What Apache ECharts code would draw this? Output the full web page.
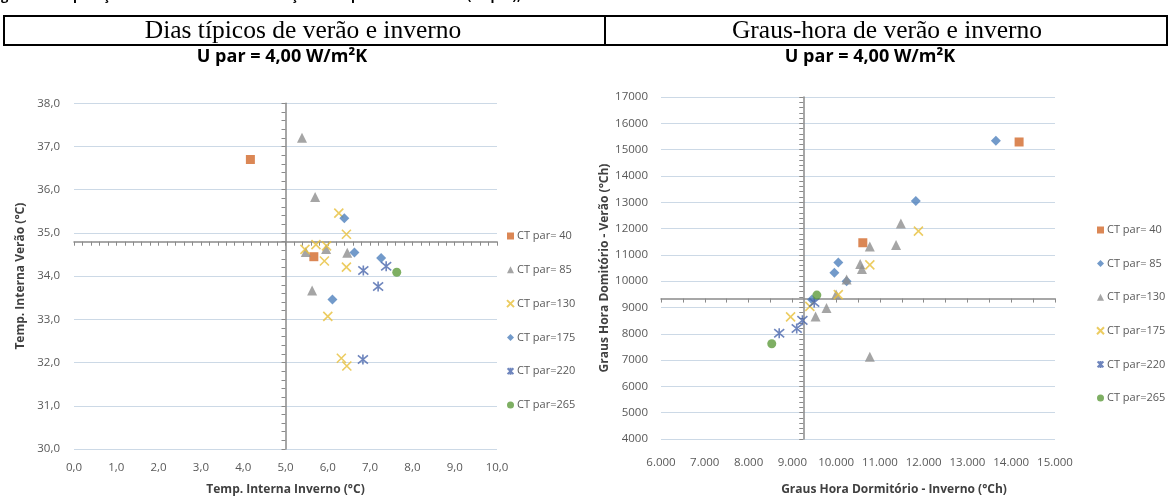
<!DOCTYPE html>
<html>
<head>
<meta charset="utf-8">
<script src="https://cdn.jsdelivr.net/npm/echarts@6/dist/echarts.min.js"></script>
<style>
  html, body { margin: 0; padding: 0; background: #ffffff; }
  #chart { width: 1170px; height: 501px; }
</style>
</head>
<body>
<div id="chart"></div>
<script>
// ---- Legend labels (one per wall heat capacity) ----
const ctLabels = ['CT par= 40', 'CT par= 85', 'CT par=130', 'CT par=175', 'CT par=220', 'CT par=265'];

// ---- Dias típicos: [Temp. interna inverno (°C), Temp. interna verão (°C)] ----
const diasCT40  = [[4.17, 36.70], [5.67, 34.45]];
const diasCT85  = [[5.39, 37.20], [5.70, 35.83], [5.48, 34.56], [5.96, 34.63], [6.46, 34.54], [5.63, 33.67]];
const diasCT130 = [[6.26, 35.46], [6.44, 34.97], [5.46, 34.62], [5.72, 34.73], [5.97, 34.70],
                   [5.92, 34.35], [6.44, 34.21], [6.00, 33.07], [6.32, 32.10], [6.45, 31.92]];
const diasCT175 = [[6.39, 35.34], [6.63, 34.55], [7.26, 34.42], [6.11, 33.46]];
const diasCT220 = [[6.84, 34.13], [7.38, 34.23], [7.19, 33.76], [6.83, 32.07]];
const diasCT265 = [[7.63, 34.09]];

// ---- Graus-hora: [GH dormitório inverno (°Ch), GH dormitório verão (°Ch)] ----
const grausCT40  = [[14180, 15290], [10610, 11460]];
const grausCT85  = [[13650, 15340], [11820, 13050], [10050, 10710], [9960, 10320], [10240, 10000], [9450, 9300]];
const grausCT130 = [[11480, 12190], [10770, 11320], [11370, 11370], [10550, 10650], [10590, 10460],
                    [10240, 10060], [10000, 9490], [9780, 8980], [9530, 8660], [10770, 7130]];
const grausCT175 = [[11880, 11900], [10770, 10620], [10050, 9490], [9400, 9040], [8960, 8640]];
const grausCT220 = [[9500, 9190], [9230, 8510], [9100, 8200], [8700, 8020]];
const grausCT265 = [[9560, 9470], [8530, 7620]];

// ---- Axis ranges and the point where the reference axes cross ----
const diasX = { min: 0, max: 10, step: 1 };
const diasY = { min: 30, max: 38, step: 1 };
const diasCross = { x: 5.0, y: 34.79 };
const grausX = { min: 6000, max: 15000, step: 1000 };
const grausY = { min: 4000, max: 17000, step: 1000 };
const grausCross = { x: 9250, y: 9330 };

// ---- Marker styles ----
const MARK = {
  square:   { symbol: 'rect', size: 9, fill: '#d2692b' },
  triangle: { symbol: 'triangle', size: 10, fill: '#8e8e8e' },
  cross:    { symbol: 'path://M0,0L10,10M10,0L0,10', size: 9, stroke: '#e7bf3a' },
  diamond:  { symbol: 'diamond', size: 10, fill: '#4f81bd' },
  star:     { symbol: 'path://M0,0L10,10M10,0L0,10M5,-1L5,11', size: 10, stroke: '#4a66ad' },
  circle:   { symbol: 'circle', size: 9, fill: '#5e9b3c' }
};

const FONT = "'Open Sans', 'Noto Sans', sans-serif";
const LABEL_COLOR = '#595959';
const GRID_COLOR = '#ccd9e6';
const AXIS_COLOR = '#8a8a8a';

// plot rectangles
const gridDias  = { left: 74,  top: 103.3, width: 423, height: 346.2 };
const gridGraus = { left: 661, top: 97,    width: 394, height: 342.5 };

function markStyle(m) {
  if (m.stroke) {
    return { color: 'rgba(0,0,0,0)', borderColor: m.stroke, borderWidth: 1.6 };
  }
  return { color: m.fill, borderWidth: 0 };
}

function scatter(prefix, idx, data, m, gi) {
  return {
    type: 'scatter',
    name: prefix + '|' + ctLabels[idx],
    xAxisIndex: gi * 2,
    yAxisIndex: gi * 2,
    data: data,
    symbol: m.symbol,
    symbolSize: m.size,
    itemStyle: markStyle(m),
    emphasis: { disabled: true },
    silent: true
  };
}

function nameStyle(padLeft) {
  return { fontWeight: 'bold', fontSize: 12, color: '#404040', fontFamily: FONT,
           padding: [0, 0, 0, padLeft || 0] };
}

function mainX(gi, r, fmt, name, nameGap, margin, padLeft) {
  return {
    gridIndex: gi, type: 'value', min: r.min, max: r.max, interval: r.step,
    position: 'bottom',
    axisLine: { show: false, onZero: false }, axisTick: { show: false }, splitLine: { show: false },
    axisLabel: { formatter: fmt, margin: margin, color: LABEL_COLOR, fontSize: 11.5, fontFamily: FONT },
    name: name, nameLocation: 'middle', nameGap: nameGap,
    nameTextStyle: nameStyle(padLeft)
  };
}
function mainY(gi, r, fmt, name, nameGap, margin) {
  return {
    gridIndex: gi, type: 'value', min: r.min, max: r.max, interval: r.step,
    position: 'left',
    axisLine: { show: false, onZero: false }, axisTick: { show: false },
    splitLine: { show: true, lineStyle: { color: GRID_COLOR, width: 1 } },
    axisLabel: { formatter: fmt, margin: margin, color: LABEL_COLOR, fontSize: 11.5, fontFamily: FONT },
    name: name, nameLocation: 'middle', nameGap: nameGap,
    nameTextStyle: nameStyle(0)
  };
}
// axes drawn through the crossing point, with tick marks
function crossX(gi, r, rY, cy, g, minorSplit) {
  return {
    gridIndex: gi, type: 'value', min: r.min, max: r.max, interval: r.step,
    position: 'bottom',
    offset: -(cy - rY.min) / (rY.max - rY.min) * g.height,
    axisLine: { show: true, onZero: false, lineStyle: { color: AXIS_COLOR, width: 1.5 } },
    axisTick: { show: true, length: 4, lineStyle: { color: AXIS_COLOR, width: 1 } },
    minorTick: { show: true, splitNumber: minorSplit, length: 4, lineStyle: { color: AXIS_COLOR, width: 1 } },
    axisLabel: { show: false }, splitLine: { show: false }
  };
}
function crossY(gi, r, rX, cx, g, minorSplit) {
  return {
    gridIndex: gi, type: 'value', min: r.min, max: r.max, interval: r.step,
    position: 'left',
    offset: -(cx - rX.min) / (rX.max - rX.min) * g.width,
    axisLine: { show: true, onZero: false, lineStyle: { color: AXIS_COLOR, width: 1.5 } },
    axisTick: { show: true, length: 4, lineStyle: { color: AXIS_COLOR, width: 1 } },
    minorTick: { show: true, splitNumber: minorSplit, length: 4, lineStyle: { color: AXIS_COLOR, width: 1 } },
    axisLabel: { show: false }, splitLine: { show: false }
  };
}

const commaFmt = v => v.toFixed(1).replace('.', ',');
const thousandFmt = v => (v / 1000).toFixed(0) + '.000';
const plainFmt = v => String(v);

// left chart: symbol order follows its legend
const diasSeries = [
  scatter('dias', 0, diasCT40,  MARK.square,   0),
  scatter('dias', 1, diasCT85,  MARK.triangle, 0),
  scatter('dias', 2, diasCT130, MARK.cross,    0),
  scatter('dias', 3, diasCT175, MARK.diamond,  0),
  scatter('dias', 4, diasCT220, MARK.star,     0),
  scatter('dias', 5, diasCT265, MARK.circle,   0)
];
const grausSeries = [
  scatter('graus', 0, grausCT40,  MARK.square,   1),
  scatter('graus', 1, grausCT85,  MARK.diamond,  1),
  scatter('graus', 2, grausCT130, MARK.triangle, 1),
  scatter('graus', 3, grausCT175, MARK.cross,    1),
  scatter('graus', 4, grausCT220, MARK.star,     1),
  scatter('graus', 5, grausCT265, MARK.circle,   1)
];

function legendFor(series, left, top, gap) {
  return {
    orient: 'vertical', left: left, top: top,
    itemWidth: 7, itemHeight: 7, itemGap: gap,
    selectedMode: false,
    data: series.map(s => s.name),
    formatter: n => n.split('|')[1],
    textStyle: { color: LABEL_COLOR, fontSize: 11, fontFamily: FONT, lineHeight: 14, padding: [0, 0, 0, -2] }
  };
}

const chart = echarts.init(document.getElementById('chart'), null, { renderer: 'canvas' });

chart.setOption({
  animation: false,
  backgroundColor: '#ffffff',
  grid: [
    Object.assign({ containLabel: false }, gridDias),
    Object.assign({ containLabel: false }, gridGraus)
  ],
  xAxis: [
    mainX(0, diasX, commaFmt, 'Temp. Interna Inverno (°C)', 35, 13, 0),
    crossX(0, diasX, diasY, diasCross.y, gridDias, 5),
    mainX(1, grausX, thousandFmt, 'Graus Hora Dormitório - Inverno (°Ch)', 45, 18, 72),
    crossX(1, grausX, grausY, grausCross.y, gridGraus, 2)
  ],
  yAxis: [
    mainY(0, diasY, commaFmt, 'Temp. Interna Verão (°C)', 47, 14),
    crossY(0, diasY, diasX, diasCross.x, gridDias, 5),
    mainY(1, grausY, plainFmt, 'Graus Hora Domitório - Verão (°Ch)', 50, 13),
    crossY(1, grausY, grausX, grausCross.x, gridGraus, 5)
  ],
  legend: [
    legendFor(diasSeries, 501, 224, 19.8),
    legendFor(grausSeries, 1091, 218, 19.6)
  ],
  series: diasSeries.concat(grausSeries),
  graphic: [
    // figure caption line, cut by the top edge
    { type: 'text', left: -10, top: -10,
      style: { text: 'Figura – Comparação dos resultados com variação da capacidade térmica (CT par),',
               font: 'bold 13px ' + FONT, fill: '#000' } },
    // header table
    { type: 'rect', shape: { x: 4, y: 16, width: 1163, height: 29 },
      style: { fill: 'none', stroke: '#000', lineWidth: 2 } },
    { type: 'line', shape: { x1: 605, y1: 16, x2: 605, y2: 45 },
      style: { stroke: '#000', lineWidth: 2 } },
    { type: 'text', x: 303, y: 31,
      style: { text: 'Dias típicos de verão e inverno', font: '25.5px "Liberation Serif", "Times New Roman", serif',
               fill: '#000', align: 'center', verticalAlign: 'middle' } },
    { type: 'text', x: 887, y: 31,
      style: { text: 'Graus-hora de verão e inverno', font: '25.5px "Liberation Serif", "Times New Roman", serif',
               fill: '#000', align: 'center', verticalAlign: 'middle' } },
    // chart titles
    { type: 'text', x: 282, y: 57,
      style: { text: 'U par = 4,00 W/m²K', font: 'bold 18px ' + FONT, fill: '#000',
               align: 'center', verticalAlign: 'middle' } },
    { type: 'text', x: 870, y: 57,
      style: { text: 'U par = 4,00 W/m²K', font: 'bold 18px ' + FONT, fill: '#000',
               align: 'center', verticalAlign: 'middle' } }
  ]
});
</script>
</body>
</html>
